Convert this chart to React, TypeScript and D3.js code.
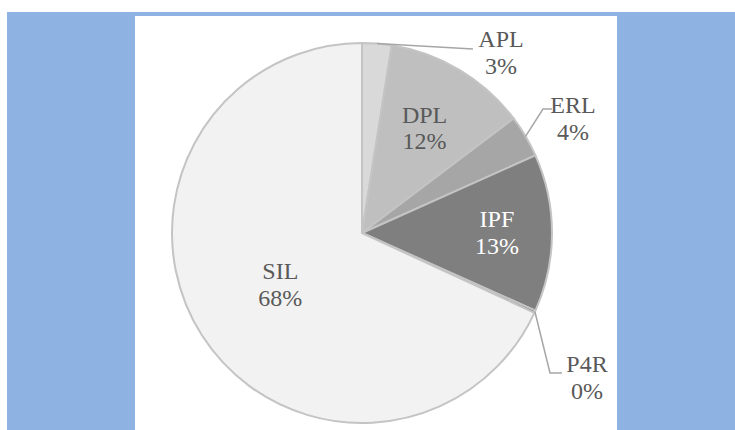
import React, { useEffect, useRef } from 'react';
import * as d3 from 'd3';

// slice data (clockwise from 12 o'clock)
const categories = ['APL', 'DPL', 'ERL', 'IPF', 'P4R', 'SIL'];
const shares = [2.5, 12.2, 3.6, 13.4, 0.2, 68.1];
const fills = ['#D9D9D9', '#BFBFBF', '#A6A6A6', '#7F7F7F', '#5A5A5A', '#F2F2F2'];

const W = 735;
const H = 430;

const App = () => {
  const ref = useRef<SVGSVGElement>(null);

  useEffect(() => {
    const svg = d3.select(ref.current);
    svg.selectAll('*').remove();

    // frame
    svg.append('rect').attr('width', W).attr('height', H).attr('fill', '#ffffff');
    svg.append('rect').attr('x', 7).attr('y', 12).attr('width', W - 7).attr('height', H - 12).attr('fill', '#8EB3E3');
    svg.append('rect').attr('x', 135).attr('y', 16).attr('width', 482).attr('height', H - 16).attr('fill', '#ffffff');

    const cx = 362;
    const cy = 233;
    const R = 190;
    const total = d3.sum(shares);

    const pie = d3.pie<number>().sort(null).value(d => d);
    const arcs = pie(shares);
    const arc = d3.arc<d3.PieArcDatum<number>>().innerRadius(0).outerRadius(R);

    const g = svg.append('g').attr('transform', `translate(${cx},${cy})`);

    g.selectAll('path')
      .data(arcs)
      .join('path')
      .attr('d', arc)
      .attr('fill', (d, i) => fills[i])
      .attr('stroke', '#C4C4C4')
      .attr('stroke-width', 2)
      .attr('stroke-linejoin', 'round');

    // label placement: inside labels use a radius factor, outside ones a fixed spot + leader (page coords)
    const inside: { [k: string]: number } = { DPL: 0.64, IPF: 0.71, SIL: 0.51 };
    const outside: { [k: string]: { x: number; y: number; leader: [number, number][] } } = {
      APL: { x: 501, y: 53, leader: [[473, 49]] },
      ERL: { x: 573, y: 119, leader: [[543, 109], [552, 109]] },
      P4R: { x: 587, y: 378, leader: [[550, 373], [562, 373]] },
    };

    const midPoint = (d: d3.PieArcDatum<number>, r: number): [number, number] => {
      const a = (d.startAngle + d.endAngle) / 2;
      return [Math.sin(a) * r, -Math.cos(a) * r];
    };

    arcs.forEach((d, i) => {
      const name = categories[i];
      const pct = Math.round((shares[i] / total) * 100) + '%';
      let lx: number;
      let ly: number;
      if (inside[name] !== undefined) {
        const p = midPoint(d, R * inside[name]);
        lx = p[0];
        ly = p[1];
      } else {
        const o = outside[name];
        lx = o.x - cx;
        ly = o.y - cy;
        const pts: [number, number][] = [
          midPoint(d, R),
          ...o.leader.map(p => [p[0] - cx, p[1] - cy] as [number, number]),
        ];
        g.append('path')
          .attr('d', d3.line()(pts))
          .attr('fill', 'none')
          .attr('stroke', '#A6A6A6')
          .attr('stroke-width', 1.5);
      }
      const t = g.append('text')
        .attr('text-anchor', 'middle')
        .style('font-family', "'Liberation Serif', Tinos, 'Times New Roman', Times, serif")
        .attr('font-size', 24)
        .attr('fill', name === 'IPF' ? '#ffffff' : '#595959');
      t.append('tspan').attr('x', lx).attr('y', ly - 6).text(name);
      t.append('tspan').attr('x', lx).attr('y', ly + 20.5).text(pct);
    });
  }, []);

  return (
    <svg
      ref={ref}
      width={W}
      height={H}
      style={{ position: 'fixed', left: 0, top: 0, display: 'block' }}
    />
  );
};

export default App;
